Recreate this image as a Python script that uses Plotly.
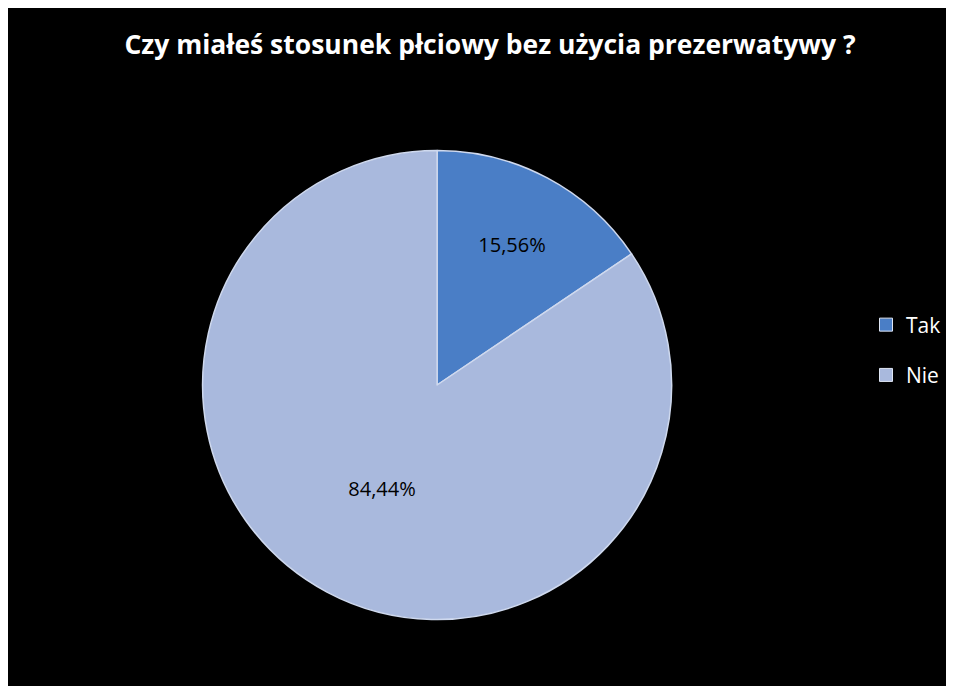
import plotly.graph_objects as go

labels = ["Tak", "Nie"]
values = [15.56, 84.44]
colors = ["#4a7ec6", "#a9b9dd"]

fig = go.Figure()
fig.add_trace(go.Pie(
    labels=labels,
    values=values,
    sort=False,
    direction="clockwise",
    rotation=0,
    showlegend=False,
    marker=dict(colors=colors, line=dict(color="#cfd9ee", width=1.5)),
    texttemplate="%{percent:.2%}",
    textposition="inside",
    insidetextorientation="horizontal",
    textfont=dict(color="black", size=20, family="Open Sans, sans-serif"),
    domain=dict(x=[0.2079, 0.7090], y=[0.0973, 0.7906]),
    hovertemplate="%{label}: %{value}<extra></extra>",
))
# legend entries, one group each so the gap can be set
for lab, col in zip(labels, colors):
    fig.add_trace(go.Scatter(
        x=[None], y=[None], mode="markers", name=lab, legendgroup=lab,
        marker=dict(symbol="square", size=13, color=col,
                    line=dict(color="#dfe6f4", width=1)),
    ))

fig.update_layout(
    width=938,
    height=678,
    separators=", ",
    title=dict(
        text="<b>Czy miałeś stosunek płciowy bez użycia prezerwatywy ?</b>",
        x=0.5139, xanchor="center", y=0.9454, yanchor="middle",
        font=dict(color="white", size=26.5, family="Open Sans, sans-serif"),
    ),
    legend=dict(
        x=0.9168, y=0.4956, xanchor="left", yanchor="middle",
        tracegroupgap=20,
        font=dict(color="white", size=21, family="Open Sans, sans-serif"),
        bgcolor="rgba(0,0,0,0)",
    ),
    xaxis=dict(visible=False),
    yaxis=dict(visible=False),
    paper_bgcolor="black",
    plot_bgcolor="black",
    margin=dict(l=0, r=0, t=0, b=0),
)
fig.write_html("out.html")
